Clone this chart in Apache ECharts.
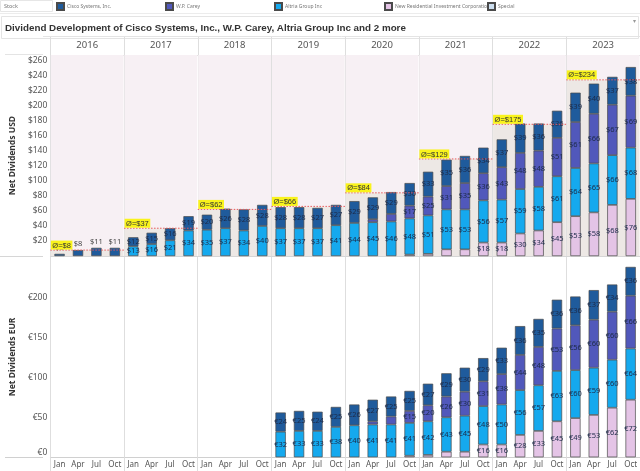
<!DOCTYPE html>
<html><head><meta charset="utf-8">
<script src="https://cdn.jsdelivr.net/npm/echarts@6/dist/echarts.min.js"></script>
<style>html,body{margin:0;padding:0;background:#fff;}#c{width:640px;height:471px;}</style>
</head><body><div id="c"></div>
<script>
// ---------- data ----------
const years = ['2016','2017','2018','2019','2020','2021','2022','2023'];
const quarters = ['Jan','Apr','Jul','Oct'];

// USD, 32 quarters (2016 Jan .. 2023 Oct)
const usdCisco  = [3,8,11,11, 12,15,16,19, 20,26,28,28, 28,28,27,27, 29,29,29,30, 33,35,36,34, 37,39,36,36, 39,40,37,38];
const usdWPC    = [0,0,0,0, 0,0,0,0, 0,0,0,0, 0,0,0,0, 0,4,10,17, 25,31,35,36, 43,48,48,51, 61,66,67,69];
const usdAltria = [0,0,0,0, 13,16,21,34, 35,37,34,40, 37,37,37,41, 44,45,46,48, 51,53,53,56, 57,59,58,61, 64,65,66,68];
const usdNRZ    = [0,0,0,0, 0,0,0,0, 0,0,0,0, 0,0,0,0, 0,0,0,2, 3,9,9,18, 18,30,34,45, 53,58,68,76];
const usdAverage = [8,37,62,66,84,129,175,234];

// EUR, 32 quarters (no data before 2019)
const eurCisco  = [null,null,null,null, null,null,null,null, null,null,null,null, 24,25,24,25, 26,27,25,25, 27,29,30,29, 33,36,35,36, 36,37,34,36];
const eurWPC    = [null,null,null,null, null,null,null,null, null,null,null,null, 0,0,0,0, 0,4,10,15, 20,26,30,31, 38,44,48,53, 56,60,60,66];
const eurAltria = [null,null,null,null, null,null,null,null, null,null,null,null, 32,33,33,38, 40,41,41,41, 42,43,45,48, 50,56,57,63, 60,59,60,64];
const eurNRZ    = [null,null,null,null, null,null,null,null, null,null,null,null, 0,0,0,0, 0,0,0,2, 3,7,7,16, 16,28,33,45, 49,53,62,72];

const usdTicks = [20,40,60,80,100,120,140,160,180,200,220,240,260];
const eurTicks = [0,50,100,150,200];

const legendNames = ['Cisco Systems, Inc.','W.P. Carey','Altria Group Inc','New Residential Investment Corporation','Special'];
// ------------------------------------------------

const quarterCats = [];
years.forEach(y => quarters.forEach(q => quarterCats.push(y + ' ' + q)));

const COLORS = {
  'Cisco Systems, Inc.': '#1f5b9c',
  'W.P. Carey': '#5158bb',
  'Altria Group Inc': '#15a9ee',
  'New Residential Investment Corporation': '#e4c4e6',
  'Special': '#cddff0'
};
const FONT = "'Noto Sans', 'Open Sans', 'Liberation Sans', sans-serif";
const LABEL_MIN = 11;
const Y_MAX_USD = 267;

function barSeries(name, values, xi, yi, stack, cur, topLabelsFirstYear) {
  return {
    name: name, type: 'bar', stack: stack, xAxisIndex: xi, yAxisIndex: yi,
    barWidth: '56%', z: 2,
    itemStyle: { color: COLORS[name], borderColor: '#4a4a4a', borderWidth: 0.7 },
    label: {
      show: true, position: 'inside', fontSize: 7.5, fontFamily: FONT, color: '#1c2a48',
      formatter: p => (p.value != null && p.value >= LABEL_MIN) ? cur + p.value : ''
    },
    data: values.map((v, i) => {
      if (v === null || v === 0) return null;
      if (topLabelsFirstYear && i < 4) {
        return { value: v, label: { show: true, position: 'top', distance: 2, color: '#444', formatter: cur + v } };
      }
      return v;
    })
  };
}

const series = [
  barSeries('New Residential Investment Corporation', usdNRZ, 0, 0, 'usd', '$'),
  barSeries('Altria Group Inc', usdAltria, 0, 0, 'usd', '$'),
  barSeries('W.P. Carey', usdWPC, 0, 0, 'usd', '$'),
  barSeries('Cisco Systems, Inc.', usdCisco, 0, 0, 'usd', '$', true),
  barSeries('New Residential Investment Corporation', eurNRZ, 2, 1, 'eur', '€'),
  barSeries('Altria Group Inc', eurAltria, 2, 1, 'eur', '€'),
  barSeries('W.P. Carey', eurWPC, 2, 1, 'eur', '€'),
  barSeries('Cisco Systems, Inc.', eurCisco, 2, 1, 'eur', '€'),
  { name: 'Special', type: 'bar', stack: 'usd', xAxisIndex: 0, yAxisIndex: 0, data: [],
    itemStyle: { color: COLORS['Special'], borderColor: '#4a4a4a', borderWidth: 0.7 } },
  // panel background (pink) + average band (grey), below bars
  {
    type: 'custom', xAxisIndex: 1, yAxisIndex: 0, z: 1, silent: true,
    data: usdAverage.map((v, i) => [i, v]),
    renderItem: (params, api) => {
      const i = api.value(0), v = api.value(1);
      const pt = api.coord([i, Y_MAX_USD]), p1 = api.coord([i, v]), p0 = api.coord([i, 0]);
      const w = api.size([1, 0])[0];
      const x = p1[0] - w / 2 + 0.5, ww = w - 1;
      return { type: 'group', children: [
        { type: 'rect', shape: { x: x, y: pt[1], width: ww, height: p1[1] - pt[1] }, style: { fill: '#f7f0f4' } },
        { type: 'rect', shape: { x: x, y: p1[1], width: ww, height: p0[1] - p1[1] }, style: { fill: '#ede8e5' } }
      ] };
    }
  },
  // average line + label (above bars)
  {
    type: 'custom', xAxisIndex: 1, yAxisIndex: 0, z: 6, silent: true,
    data: usdAverage.map((v, i) => [i, v]),
    renderItem: (params, api) => {
      const i = api.value(0), v = api.value(1);
      const p = api.coord([i, v]);
      const w = api.size([1, 0])[0];
      return { type: 'group', children: [
        { type: 'line', shape: { x1: p[0] - w / 2, y1: p[1], x2: p[0] + w / 2, y2: p[1] },
          style: { stroke: '#e8585a', lineWidth: 1, lineDash: [1.5, 1.5] } },
        { type: 'text', x: p[0] - w / 2 + 0.5, y: p[1] - 0.5,
          style: { text: 'Ø=$' + v, fill: '#333', fontSize: 7.5, fontFamily: "'Liberation Sans', sans-serif",
                   backgroundColor: '#f9f31c', padding: [1, 1.5, 0, 1.5], align: 'left', verticalAlign: 'bottom' } }
      ] };
    }
  }
];

const legendLeft = [56, 165, 274, 384, 487];
const legends = legendNames.map((n, i) => ({
  top: 2, left: legendLeft[i], padding: 0, itemWidth: 7, itemHeight: 7, icon: 'rect', selectedMode: false,
  textStyle: { fontSize: 5, color: '#777', fontFamily: FONT, padding: [0, 0, 0, -2] },
  data: [n]
}));

const gridLine = '#dedede';
const option = {
  animation: false,
  backgroundColor: '#fff',
  textStyle: { fontFamily: FONT },
  legend: legends,
  grid: [
    { left: 43, right: 0, top: 55, height: 201.1 },
    { left: 43, right: 0, top: 256.5, height: 200.8 }
  ],
  xAxis: [
    { type: 'category', gridIndex: 0, data: quarterCats, position: 'bottom',
      axisLine: { show: true, lineStyle: { color: '#d6d6d6' } }, axisTick: { show: false }, axisLabel: { show: false } },
    { type: 'category', gridIndex: 0, data: years, position: 'top',
      axisLine: { show: true, lineStyle: { color: gridLine } },
      axisTick: { show: true, length: 18, interval: 0, lineStyle: { color: gridLine } },
      axisLabel: { show: true, fontSize: 9.5, color: '#555', margin: 5, fontFamily: FONT },
      splitLine: { show: true, interval: 0, lineStyle: { color: gridLine } } },
    { type: 'category', gridIndex: 1, data: quarterCats, position: 'bottom',
      axisLine: { show: true, lineStyle: { color: '#d0d0d0' } }, axisTick: { show: false },
      axisLabel: { show: true, interval: 0, fontSize: 8, color: '#555', margin: 3, fontFamily: FONT,
                   formatter: v => v.split(' ')[1] } },
    { type: 'category', gridIndex: 1, data: years, position: 'bottom',
      axisLine: { show: false }, axisLabel: { show: false },
      axisTick: { show: true, length: 14, interval: 0, lineStyle: { color: gridLine } },
      splitLine: { show: true, interval: 0, lineStyle: { color: gridLine } } }
  ],
  yAxis: [
    { type: 'value', gridIndex: 0, min: 0, max: Y_MAX_USD, interval: 20,
      name: 'Net Dividends USD', nameLocation: 'middle', nameGap: 27,
      nameTextStyle: { fontSize: 8.5, fontWeight: 'bold', color: '#333', fontFamily: FONT },
      axisLine: { show: false }, axisTick: { show: false }, splitLine: { show: false },
      axisLabel: { fontSize: 8.5, color: '#555', margin: 3, fontFamily: FONT,
                   formatter: v => usdTicks.indexOf(v) >= 0 ? '$' + v : '' } },
    { type: 'value', gridIndex: 1, min: 0, max: 251, interval: 50,
      name: 'Net Dividends EUR', nameLocation: 'middle', nameGap: 27,
      nameTextStyle: { fontSize: 8.5, fontWeight: 'bold', color: '#333', fontFamily: FONT },
      axisLine: { show: false }, axisTick: { show: false }, splitLine: { show: false },
      axisLabel: { fontSize: 8.5, color: '#555', margin: 3, fontFamily: FONT,
                   formatter: v => eurTicks.indexOf(v) < 0 ? '' : (v === 0 ? '{z|€0}' : '€' + v),
                   rich: { z: { fontSize: 8.5, color: '#555', padding: [0, 0, 9, 0], fontFamily: FONT } } } }
  ],
  graphic: [
    { type: 'rect', shape: { x: 0.5, y: 0.5, width: 52, height: 11 }, style: { fill: '#fff', stroke: '#e6e6e6', lineWidth: 1 } },
    { type: 'text', x: 4, y: 6, style: { text: 'Stock', fontSize: 5.5, fill: '#777', verticalAlign: 'middle', fontFamily: FONT } },
    { type: 'line', shape: { x1: 0, y1: 13.5, x2: 640, y2: 13.5 }, style: { stroke: '#ececec', lineWidth: 1 } },
    { type: 'rect', shape: { x: 1.5, y: 16.5, width: 637, height: 22 }, style: { fill: 'none', stroke: '#e4e4e4', lineWidth: 1 } },
    { type: 'text', x: 5, y: 28, style: { text: 'Dividend Development of Cisco Systems, Inc., W.P. Carey, Altria Group Inc and 2 more',
        fontSize: 9.8, fontWeight: 'bold', fill: '#333', verticalAlign: 'middle',
        fontFamily: "'Liberation Sans', Arial, sans-serif" } },
    { type: 'text', x: 633, y: 21, style: { text: '▾', fontSize: 6, fill: '#999', verticalAlign: 'middle' } },
    { type: 'line', shape: { x1: 43, y1: 36.5, x2: 640, y2: 36.5 }, style: { stroke: '#e4e4e4', lineWidth: 1 } },
    { type: 'line', shape: { x1: 5, y1: 54.5, x2: 43, y2: 54.5 }, style: { stroke: '#e4e4e4', lineWidth: 1 } },
    { type: 'line', shape: { x1: 0, y1: 256.5, x2: 43, y2: 256.5 }, style: { stroke: '#d6d6d6', lineWidth: 1 } },
    { type: 'line', shape: { x1: 5, y1: 457.5, x2: 43, y2: 457.5 }, style: { stroke: '#d0d0d0', lineWidth: 1 } }
  ],
  series: series
};

const chart = echarts.init(document.getElementById('c'), null, { renderer: 'canvas' });
chart.setOption(option);
</script>
</body></html>
